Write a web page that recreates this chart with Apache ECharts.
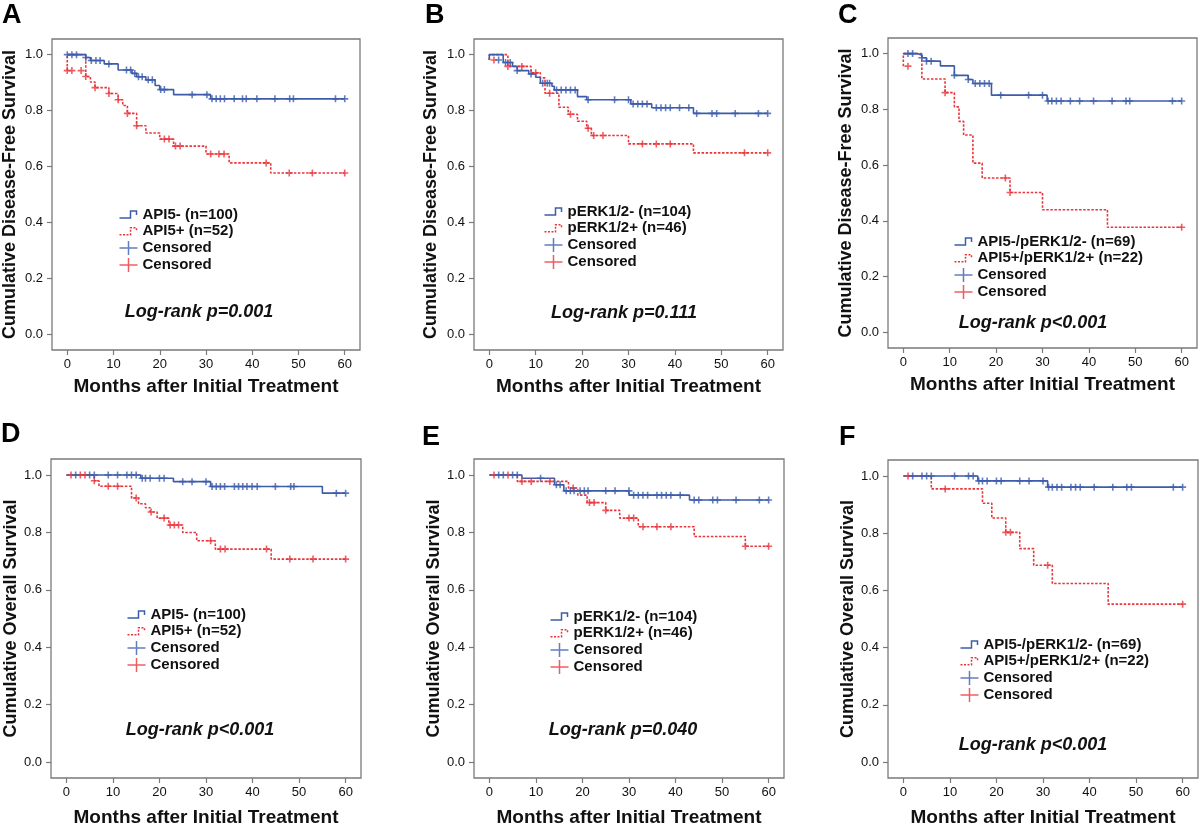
<!DOCTYPE html>
<html><head><meta charset="utf-8">
<script src="https://cdn.jsdelivr.net/npm/echarts@6/dist/echarts.min.js"></script>
<style>html,body{margin:0;padding:0;background:#fff}#c{width:1200px;height:828px}</style>
</head><body><div id="c"></div>
<script>
// ---------- text / ticks ----------
const panelLetters = ['A','B','C','D','E','F'];
const xTicks = [0,10,20,30,40,50,60];
const yTicks = [0,0.2,0.4,0.6,0.8,1.0];
const xTitle = 'Months after Initial Treatment';
const yTitles = ['Cumulative Disease-Free Survival','Cumulative Disease-Free Survival','Cumulative Disease-Free Survival',
                 'Cumulative Overall Survival','Cumulative Overall Survival','Cumulative Overall Survival'];
const groupNeg = ['API5- (n=100)','pERK1/2- (n=104)','API5-/pERK1/2- (n=69)','API5- (n=100)','pERK1/2- (n=104)','API5-/pERK1/2- (n=69)'];
const groupPos = ['API5+ (n=52)','pERK1/2+ (n=46)','API5+/pERK1/2+ (n=22)','API5+ (n=52)','pERK1/2+ (n=46)','API5+/pERK1/2+ (n=22)'];
const censoredLabel = 'Censored';
const pTexts = ['Log-rank p=0.001','Log-rank p=0.111','Log-rank p<0.001','Log-rank p<0.001','Log-rank p=0.040','Log-rank p<0.001'];

// ---------- survival data [month, survival] ----------
const blueA = [[0,1],[4,0.99],[5,0.979],[8,0.967],[11,0.945],[14,0.933],[15,0.921],[17,0.91],[19,0.89],[20,0.875],[23,0.857],[31,0.842],[60,0.842]];
const blueCensA = [[0,1],[1,1],[2,1],[4,0.99],[5.2,0.979],[6.2,0.979],[7.1,0.979],[9,0.967],[12.8,0.945],[13.7,0.945],[14.6,0.933],[15.4,0.921],[16.2,0.921],[17.5,0.91],[18.4,0.91],[20.2,0.875],[21,0.875],[27,0.857],[30.2,0.857],[31.3,0.842],[32.2,0.842],[33.1,0.842],[34,0.842],[36.1,0.842],[37.9,0.842],[38.7,0.842],[41,0.842],[44.9,0.842],[48.1,0.842],[48.9,0.842],[58,0.842],[60,0.842]];
const redA = [[0,0.943],[0,1],[4,0.922],[5,0.902],[6,0.882],[9,0.861],[11,0.839],[12,0.818],[13,0.79],[15,0.746],[17,0.72],[20,0.698],[23,0.673],[30,0.645],[35,0.613],[44,0.577],[60,0.577]];
const redCensA = [[0,0.943],[1,0.943],[3,0.943],[4,0.922],[6,0.882],[9,0.861],[11,0.839],[13,0.79],[15,0.746],[21,0.698],[22,0.698],[23.4,0.673],[24.4,0.673],[31,0.645],[32.8,0.645],[33.9,0.645],[43,0.613],[48,0.577],[53,0.577],[60,0.577]];

const blueB = [[0,0.981],[0,1],[3,0.972],[5,0.958],[6,0.943],[8.5,0.931],[10,0.919],[11,0.898],[13.5,0.887],[14,0.874],[19,0.85],[21,0.839],[30.5,0.824],[35,0.81],[44,0.79],[60,0.79]];
const blueCensB = [[2,0.981],[3.5,0.972],[4.5,0.972],[6,0.943],[9,0.931],[11.5,0.898],[12.5,0.898],[13,0.898],[14.5,0.874],[15.5,0.874],[16.5,0.874],[17.5,0.874],[18.5,0.874],[21.3,0.839],[27,0.839],[30,0.839],[31,0.824],[32,0.824],[33,0.824],[34,0.824],[36,0.81],[37,0.81],[38,0.81],[39,0.81],[41,0.81],[43,0.81],[44.7,0.79],[48,0.79],[49,0.79],[53,0.79],[58,0.79],[60,0.79]];
const redB = [[0,0.981],[0,1],[4,0.958],[9,0.935],[11,0.917],[12,0.862],[15,0.812],[17,0.787],[19,0.762],[21,0.737],[22,0.711],[30,0.681],[44,0.649],[60,0.649]];
const redCensB = [[1,0.981],[4,0.958],[7,0.958],[10,0.935],[13,0.862],[17.5,0.787],[21.3,0.737],[22.5,0.711],[24.5,0.711],[33,0.681],[36,0.681],[39,0.681],[55,0.649],[60,0.649]];

const blueC = [[0,1],[3,0.994],[4,0.985],[5,0.973],[8,0.956],[11,0.922],[14,0.907],[15,0.893],[19,0.851],[31,0.83],[60,0.83]];
const blueCensC = [[1,1],[2,1],[4,0.985],[5,0.973],[6,0.973],[11,0.922],[14,0.907],[15.5,0.893],[16.5,0.893],[17.5,0.893],[18.5,0.893],[21,0.851],[27,0.851],[30,0.851],[31.2,0.83],[32,0.83],[33,0.83],[34,0.83],[36,0.83],[38,0.83],[41,0.83],[45,0.83],[48,0.83],[48.8,0.83],[58,0.83],[60,0.83]];
const redC = [[0,0.955],[0,1],[4,0.909],[9,0.86],[11,0.809],[12,0.757],[13,0.708],[15,0.607],[17,0.554],[23,0.502],[30,0.44],[44,0.377],[60,0.377]];
const redCensC = [[1,0.955],[9,0.86],[22,0.554],[23,0.502],[60,0.377]];

const blueD = [[0,1],[16,0.989],[23,0.977],[31,0.96],[55,0.937],[60,0.937]];
const blueCensD = [[2,1],[5,1],[6,1],[9,1],[11,1],[13,1],[14,1],[15,1],[16.3,0.989],[17,0.989],[18,0.989],[20,0.989],[21,0.989],[25,0.977],[27,0.977],[30,0.977],[31.3,0.96],[32.2,0.96],[33.1,0.96],[34,0.96],[36.1,0.96],[37,0.96],[37.9,0.96],[38.8,0.96],[39.9,0.96],[41,0.96],[44.9,0.96],[48.2,0.96],[48.9,0.96],[58,0.937],[60,0.937]];
const redD = [[0,1],[6,0.98],[7,0.961],[14,0.92],[15.5,0.9],[17,0.886],[18,0.871],[19.5,0.85],[22,0.826],[25,0.8],[28,0.771],[32,0.742],[44,0.707],[60,0.707]];
const redCensD = [[1,1],[3,1],[4,1],[6,0.98],[9,0.961],[11,0.961],[15,0.92],[18.2,0.871],[21,0.85],[22.3,0.826],[23.2,0.826],[24.1,0.826],[31,0.771],[33.1,0.742],[34.1,0.742],[43,0.742],[48,0.707],[53,0.707],[60,0.707]];

const blueE = [[0,1],[7,0.989],[14,0.966],[16,0.945],[30,0.93],[43,0.913],[60,0.913]];
const blueCensE = [[2,1],[3,1],[5,1],[6,1],[11,0.989],[14.4,0.966],[15.2,0.966],[16.5,0.945],[17.4,0.945],[18.2,0.945],[19.5,0.945],[20.4,0.945],[21.2,0.945],[25,0.945],[27,0.945],[30,0.945],[31,0.93],[32,0.93],[33,0.93],[34,0.93],[36,0.93],[37,0.93],[38,0.93],[39,0.93],[41,0.93],[44,0.913],[45,0.913],[48,0.913],[49,0.913],[53,0.913],[58,0.913],[60,0.913]];
const redE = [[0,1],[6,0.978],[17,0.955],[19,0.93],[21,0.904],[25,0.877],[28,0.85],[32,0.82],[44,0.786],[55,0.752],[60,0.752]];
const redCensE = [[1,1],[4,1],[7,0.978],[9,0.978],[13,0.978],[18,0.955],[21.5,0.904],[22.5,0.904],[25,0.877],[30,0.85],[31,0.85],[33,0.82],[36,0.82],[39,0.82],[55,0.752],[60,0.752]];

const blueF = [[0,1],[16,0.983],[31,0.961],[60,0.961]];
const blueCensF = [[2,1],[4,1],[5,1],[6,1],[11,1],[14,1],[15,1],[16.2,0.983],[17,0.983],[18,0.983],[20,0.983],[21,0.983],[25,0.983],[27,0.983],[30,0.983],[31.2,0.961],[32,0.961],[33,0.961],[34,0.961],[36,0.961],[37,0.961],[38,0.961],[41,0.961],[45,0.961],[48,0.961],[49,0.961],[58,0.961],[60,0.961]];
const redF = [[0,1],[6,0.955],[17,0.905],[19,0.853],[22,0.803],[25,0.746],[28,0.688],[32,0.624],[44,0.552],[60,0.552]];
const redCensF = [[1,1],[9,0.955],[22,0.803],[23,0.803],[31,0.688],[60,0.552]];

const blueLines = [blueA,blueB,blueC,blueD,blueE,blueF];
const blueCens = [blueCensA,blueCensB,blueCensC,blueCensD,blueCensE,blueCensF];
const redLines = [redA,redB,redC,redD,redE,redF];
const redCens = [redCensA,redCensB,redCensC,redCensD,redCensE,redCensF];

// ---------- layout & style ----------
const FONT = 'Liberation Sans, Arial, Helvetica, sans-serif';
const BLUE = '#3d5dab';
const RED = '#e8363c';
const BOX = '#7a7a7a';
const grids = [
  {left:51, top:39, width:309, height:311},
  {left:474, top:39, width:309, height:311},
  {left:888, top:38, width:309, height:310},
  {left:51, top:459, width:310, height:319},
  {left:474, top:459, width:310, height:319},
  {left:888, top:460, width:310, height:320}
];
const yNameGap = [33,34,33,31,30,30];
const xNameGap = [27,27,27,30,30,30];
const legendPos = [[117,205],[542,202],[952,232],[125,605],[548,607],[958,635]];
const letterPos = [[2,2],[425,2],[838,2],[1,421],[422,424],[839,424]];
const pPos = [[199,312],[624,313],[1033,323],[200,730],[623,730],[1033,745]];

const stepIcon = 'path://M0,0M0,10.5L11,10.5L11,3.5L17,3.5L17,7.5M18,14';
const plusIcon = 'path://M0,7L18,7M9,0L9,14';
const plusSymbol = 'path://M0,5L10,5M5,0L5,10';

const option = {
  animation:false,
  backgroundColor:'#fff',
  grid: [], xAxis: [], yAxis: [], series: [], legend: [], graphic: []
};

for (let i = 0; i < 6; i++) {
  const L = panelLetters[i];
  option.grid.push(Object.assign({show:true, borderColor:BOX, borderWidth:1.3, backgroundColor:'#fff', containLabel:false}, grids[i]));
  option.xAxis.push({
    type:'value', gridIndex:i, min:-3.3, max:63.3, position:'bottom',
    name:xTitle, nameLocation:'middle', nameGap:xNameGap[i],
    nameTextStyle:{fontFamily:FONT, fontSize:19, fontWeight:'bold', color:'#111'},
    axisLine:{show:false, onZero:false},
    axisTick:{show:true, inside:false, length:5, lineStyle:{color:BOX, width:1.2}, customValues:xTicks},
    axisLabel:{show:true, margin:8, fontFamily:FONT, fontSize:13, color:'#111', customValues:xTicks},
    splitLine:{show:false}
  });
  option.yAxis.push({
    type:'value', gridIndex:i, min:-0.056, max:1.056, position:'left',
    name:yTitles[i], nameLocation:'middle', nameGap:yNameGap[i],
    nameTextStyle:{fontFamily:FONT, fontSize:18, fontWeight:'bold', color:'#111'},
    axisLine:{show:false, onZero:false},
    axisTick:{show:true, inside:false, length:5, lineStyle:{color:BOX, width:1.2}, customValues:yTicks},
    axisLabel:{show:true, margin:9, fontFamily:FONT, fontSize:13, color:'#111', customValues:yTicks,
               formatter:(v)=>v.toFixed(1)},
    splitLine:{show:false}
  });
  const nNeg = groupNeg[i] + '#' + L;
  const nPos = groupPos[i] + '#' + L;
  const nC1 = censoredLabel + '#' + L + '1';
  const nC2 = censoredLabel + '#' + L + '2';
  option.series.push({
    name:nPos, type:'line', xAxisIndex:i, yAxisIndex:i, step:'end', data:redLines[i],
    symbol:'none', silent:true, z:2, color:RED,
    lineStyle:{color:RED, width:1.6, type:[2.5,1.6]}
  });
  option.series.push({
    name:nNeg, type:'line', xAxisIndex:i, yAxisIndex:i, step:'end', data:blueLines[i],
    symbol:'none', silent:true, z:3, color:BLUE,
    lineStyle:{color:BLUE, width:1.6}
  });
  option.series.push({
    name:nC2, type:'scatter', xAxisIndex:i, yAxisIndex:i, data:redCens[i],
    symbol:plusSymbol, symbolSize:[7,7], silent:true, z:4,
    itemStyle:{color:'none', borderColor:RED, borderWidth:1.6}
  });
  option.series.push({
    name:nC1, type:'scatter', xAxisIndex:i, yAxisIndex:i, data:blueCens[i],
    symbol:plusSymbol, symbolSize:[7,7], silent:true, z:5,
    itemStyle:{color:'none', borderColor:BLUE, borderWidth:1.6}
  });
  option.legend.push({
    orient:'vertical', left:legendPos[i][0], top:legendPos[i][1], padding:0,
    itemWidth:18, itemHeight:14, itemGap:-2.2, selectedMode:false,
    textStyle:{fontFamily:FONT, fontSize:15, fontWeight:'bold', color:'#111'},
    formatter:(name)=>name.split('#')[0],
    data:[
      {name:nNeg, icon:stepIcon, itemStyle:{color:'none', borderColor:BLUE, borderWidth:1.5, borderType:'solid'}},
      {name:nPos, icon:stepIcon, itemStyle:{color:'none', borderColor:RED, borderWidth:1.5, borderType:[2,1.5]}},
      {name:nC1, icon:plusIcon, itemStyle:{color:'none', borderColor:BLUE, borderWidth:1.5, borderType:'solid'}},
      {name:nC2, icon:plusIcon, itemStyle:{color:'none', borderColor:RED, borderWidth:1.5, borderType:'solid'}}
    ]
  });
  option.graphic.push({
    type:'text', left:letterPos[i][0], top:letterPos[i][1], silent:true,
    style:{text:L, font:'bold 27px ' + FONT, fill:'#000'}
  });
  option.graphic.push({
    type:'text', x:pPos[i][0], y:pPos[i][1], silent:true,
    style:{text:pTexts[i], font:'italic bold 18px ' + FONT, fill:'#111', textAlign:'center', textVerticalAlign:'middle'}
  });
}

const chart = echarts.init(document.getElementById('c'), null, {renderer:'canvas'});
chart.setOption(option);
</script>
</body></html>
